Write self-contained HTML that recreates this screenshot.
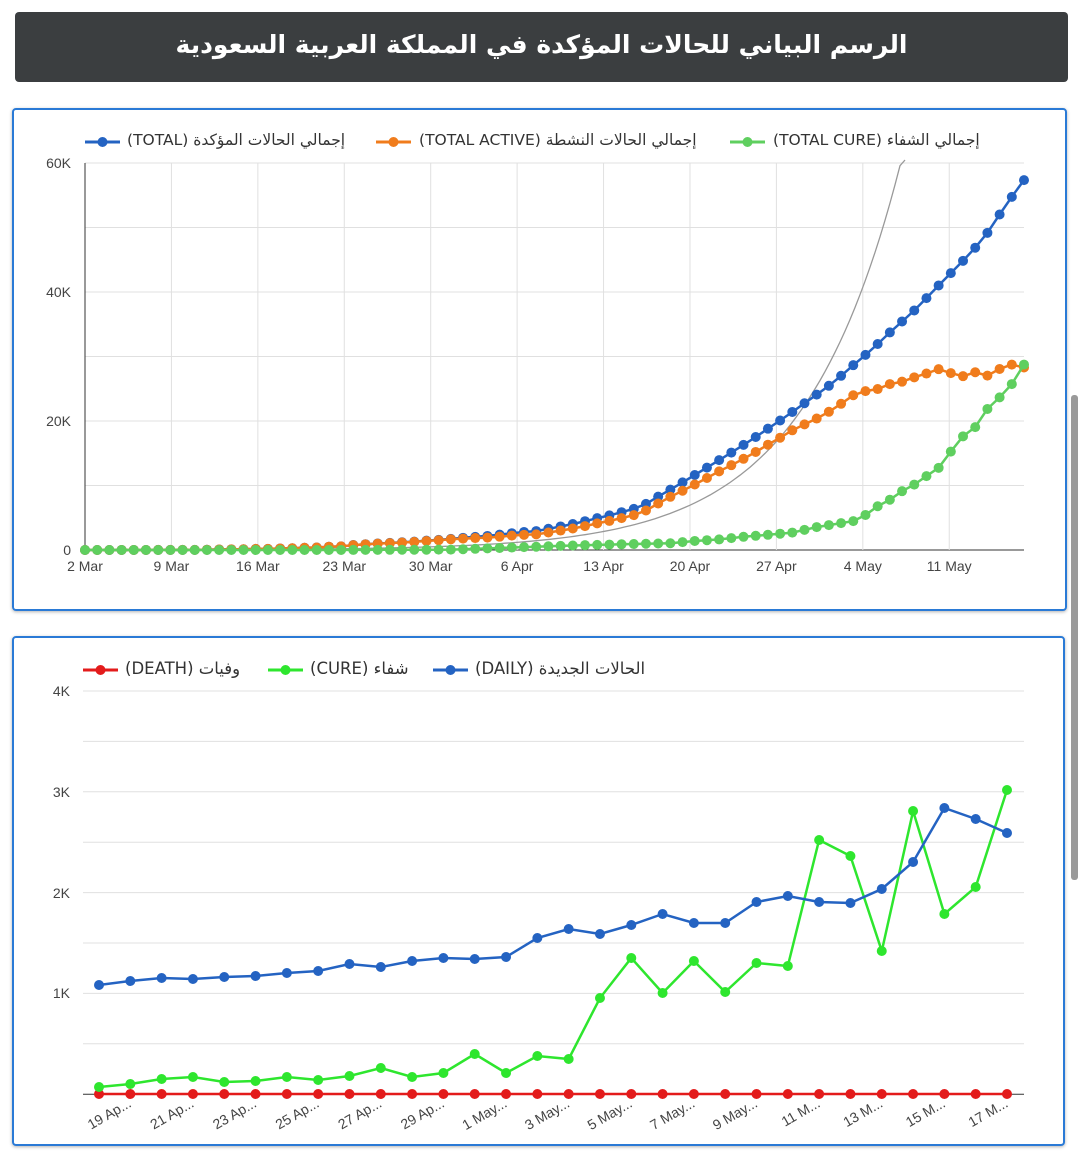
<!DOCTYPE html>
<html><head><meta charset="utf-8"><style>
body{margin:0;width:1080px;height:1157px;background:#fff;position:relative;overflow:hidden;font-family:"Liberation Sans","Noto Sans CJK SC",sans-serif}
.abs{position:absolute}
.title{left:15px;top:12px;width:1053px;height:70px;background:#3b3e40;border-radius:4px;color:#fff;font-size:25px;font-weight:bold;text-align:center;line-height:66px;font-family:"DejaVu Sans","Liberation Sans",sans-serif}
.card{border:2px solid #2a7ad6;border-radius:4px;box-shadow:0 1px 3px rgba(0,0,0,.3)}
.lg{font-size:15.5px;color:#333;direction:rtl;white-space:nowrap;font-family:"DejaVu Sans","Liberation Sans",sans-serif}
.lg2{font-size:16.5px}
</style></head><body>
<div class="abs title" dir="rtl">الرسم البياني للحالات المؤكدة في المملكة العربية السعودية</div>
<div class="abs card" style="left:12px;top:108px;width:1051px;height:499px"></div>
<div class="abs card" style="left:12px;top:636px;width:1049px;height:506px"></div>
<div class="abs" style="left:1071px;top:395px;width:7px;height:485px;background:#9a9a9a;border-radius:3px"></div>
<svg class="abs" style="left:0;top:0" width="1080" height="1157" id="s"></svg>
<div class="abs lg" style="left:127px;top:131px">إجمالي الحالات المؤكدة (TOTAL)</div>
<div class="abs lg" style="left:419px;top:131px">إجمالي الحالات النشطة (TOTAL ACTIVE)</div>
<div class="abs lg" style="left:773px;top:131px">إجمالي الشفاء (TOTAL CURE)</div>
<div class="abs lg lg2" style="left:125px;top:659px">وفيات (DEATH)</div>
<div class="abs lg lg2" style="left:310px;top:659px">شفاء (CURE)</div>
<div class="abs lg lg2" style="left:475px;top:659px">الحالات الجديدة (DAILY)</div>
<script>
const NS="http://www.w3.org/2000/svg",s=document.getElementById('s');
function el(t,a,txt){const e=document.createElementNS(NS,t);for(const k in a)e.setAttribute(k,a[k]);if(txt!==undefined)e.textContent=txt;s.appendChild(e);return e;}
for(let i=0;i<=6;i++){const y=163+i*64.5;el('line',{x1:85,x2:1024,y1:y,y2:y,stroke:i==6?'#333':'#e0e0e0','stroke-width':1});}
const xl=['2 Mar','9 Mar','16 Mar','23 Mar','30 Mar','6 Apr','13 Apr','20 Apr','27 Apr','4 May','11 May'];
const dx=12.2;
xl.forEach((t,i)=>{const x=85+i*7*dx*1.012;if(i>0)el('line',{x1:x,x2:x,y1:163,y2:550,stroke:'#e0e0e0'});el('text',{x:x,y:571,'text-anchor':'middle','font-size':14,fill:'#444'},t);});
el('line',{x1:85,x2:85,y1:163,y2:550,stroke:'#333'});
[['60K',163],['40K',292],['20K',421],['0',550]].forEach(([t,y])=>el('text',{x:71,y:y+5,'text-anchor':'end','font-size':14,fill:'#444'},t));
const tot=[1,1,1,5,5,5,11,15,20,21,45,86,103,118,171,171,238,274,344,392,511,562,767,900,1012,1104,1203,1299,1453,1563,1720,1885,2039,2179,2385,2605,2795,2932,3287,3651,4033,4462,4934,5369,5862,6380,7142,8274,9362,10484,11631,12772,13930,15102,16299,17522,18811,20077,21402,22753,24097,25459,27011,28656,30251,31938,33731,35432,37136,39048,41014,42925,44830,46869,49176,52016,54752,57345];
const cureK={0:0,20:1,30:60,40:700,45:931,48:1049,50:1400,52:1640,54:2049,56:2357,58:2700,60:3555,63:4476,64:5431,65:6783,66:7798,67:9120,68:10144,69:11457,70:12737,71:15257,72:17622,73:19051,74:21869,75:23666,76:25722,77:28748};
const ks=Object.keys(cureK).map(Number);
const cure=tot.map((_,i)=>{for(let j=0;j<ks.length-1;j++){if(i>=ks[j]&&i<=ks[j+1]){const a=ks[j],b=ks[j+1];return cureK[a]+(cureK[b]-cureK[a])*(i-a)/(b-a);}}return 0;});
const n=tot.length,sx=(1024-85)/(n-1);
const X=i=>85+i*sx,Y=v=>550-v*387/60000;
let d='';for(let x=85;x<=905;x+=5){const y=550-0.092*Math.exp(0.01023*(x-85));d+=(x==85?'M':'L')+x+','+Math.max(y,160).toFixed(1);}
el('path',{d:d,fill:'none',stroke:'#999','stroke-width':1.3});
function series(vals,col,xf,yf,r){el('path',{d:vals.map((v,i)=>(i?'L':'M')+xf(i).toFixed(1)+','+yf(v).toFixed(1)).join(''),fill:'none',stroke:col,'stroke-width':2.5});vals.forEach((v,i)=>el('circle',{cx:xf(i),cy:yf(v),r:r,fill:col}));}
const act=tot.map((v,i)=>Math.max(0,v-cure[i]-(i>40?(i-40)*8:0)));
series(tot,'#2463c2',X,Y,5);
series(act,'#f07c1c',X,Y,5);
series(cure,'#5fcf5f',X,Y,5);
function lm(x,y,c){el('line',{x1:x,x2:x+35,y1:y,y2:y,stroke:c,'stroke-width':3});el('circle',{cx:x+17.5,cy:y,r:5,fill:c});}
lm(85,142,'#2463c2');lm(376,142,'#f07c1c');lm(730,142,'#5fcf5f');
lm(83,670,'#e31b1b');lm(268,670,'#2ee62e');lm(433,670,'#2463c2');
for(let i=0;i<=8;i++){const y=691+i*50.4;el('line',{x1:83,x2:1024,y1:y,y2:y,stroke:i==8?'#333':'#e0e0e0'});}
[['4K',691],['3K',792],['2K',893],['1K',993]].forEach(([t,y])=>el('text',{x:70,y:y+5,'text-anchor':'end','font-size':14,fill:'#444'},t));
const by=[985,981,978,979,977,976,973,971,964,967,961,958,959,957,938,929,934,925,914,923,923,902,896,902,903,889,862,808,819,833];
const gy=[1087,1084,1079,1077,1082,1081,1077,1080,1076,1068,1077,1073,1054,1073,1056,1059,998,958,993,961,992,963,966,840,856,951,811,914,887,790];
const ry=by.map(()=>1094);
const X2=i=>99+i*(908/29),I=v=>v;
series(ry,'#e31b1b',X2,I,5);
series(gy,'#2ee62e',X2,I,5);
series(by,'#2463c2',X2,I,5);
const lab=['19 Ap...','21 Ap...','23 Ap...','25 Ap...','27 Ap...','29 Ap...','1 May...','3 May...','5 May...','7 May...','9 May...','11 M...','13 M...','15 M...','17 M...'];
lab.forEach((t,k)=>{const x=X2(2*k+1)+2;el('text',{x:x,y:1106,'text-anchor':'end','font-size':14,fill:'#444',transform:`rotate(-30 ${x} 1106)`},t);});
</script>
</body></html>
